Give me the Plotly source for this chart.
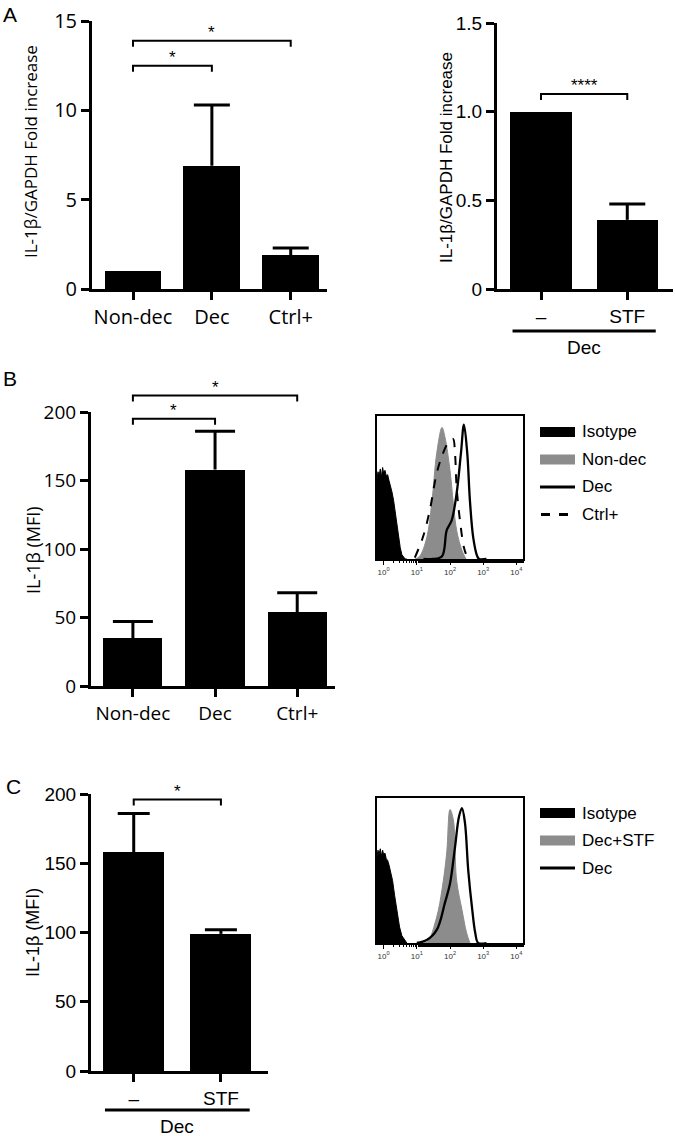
import plotly.graph_objects as go

W, H = 675, 1136

# ---------------- data ----------------
a1_categories = ["Non-dec", "Dec", "Ctrl+"]
a1_means = [1.0, 6.9, 1.9]
a1_err = [0.0, 3.4, 0.4]
a1_sig = [(0, 1, 12.5, "*"), (0, 2, 13.9, "*")]

a2_categories = ["–", "STF"]
a2_means = [1.0, 0.39]
a2_err = [0.0, 0.09]
a2_sig = [(0, 1, 1.10, "****")]

b_categories = ["Non-dec", "Dec", "Ctrl+"]
b_means = [35, 158, 54]
b_err = [12, 28, 14]
b_sig = [(0, 1, 195, "*"), (0, 2, 212, "*")]

c_categories = ["–", "STF"]
c_means = [158, 99]
c_err = [28, 3]
c_sig = [(0, 1, 196, "*")]

hist_ticks = [0, 1, 2, 3, 4]  # decades

# histogram B (exponent of intensity, % of max)
hb_iso_x = [-0.2, -0.17, -0.14, -0.1, -0.07, -0.03, 0.0, 0.04, 0.08, 0.12, 0.16, 0.2, 0.25, 0.3, 0.35, 0.4, 0.45, 0.5, 0.55, 0.6, 0.65, 0.7]
hb_iso_y = [56, 61, 58, 63, 57, 64, 60, 62, 58, 59, 55, 52, 47, 41, 33, 24, 15, 8, 3, 1, 0, 0]
hb_nondec_x = [0.95, 1.09, 1.3, 1.45, 1.6, 1.76, 1.85, 2.0, 2.1, 2.2, 2.36, 2.48]
hb_nondec_y = [0, 2, 15, 39, 74, 92, 85, 62, 39, 20, 6, 0]
hb_dec_x = [1.2, 1.48, 1.76, 1.9, 2.05, 2.2, 2.33, 2.42, 2.52, 2.6, 2.7, 2.82, 2.88, 3.1]
hb_dec_y = [0, 0, 2, 20, 27, 46, 74, 94, 74, 41, 15, 2, 0, 0]
hb_ctrl_x = [0.94, 1.18, 1.39, 1.6, 1.79, 1.94, 2.09, 2.15, 2.2, 2.3, 2.42, 2.52]
hb_ctrl_y = [1, 15, 34, 60, 74, 81, 84, 74, 50, 27, 8, 1]

# histogram C
hc_iso_x = [-0.2, -0.17, -0.14, -0.1, -0.07, -0.03, 0.0, 0.04, 0.08, 0.12, 0.16, 0.2, 0.27, 0.33, 0.4, 0.48, 0.55, 0.64, 0.7]
hc_iso_y = [60, 64, 61, 65, 60, 64, 61, 62, 58, 57, 54, 50, 43, 33, 22, 11, 5, 2, 0]
hc_stf_x = [1.2, 1.33, 1.6, 1.76, 1.9, 2.0, 2.1, 2.2, 2.36, 2.5, 2.6]
hc_stf_y = [0, 1, 18, 37, 62, 92, 85, 43, 23, 7, 0]
hc_dec_x = [1.0, 1.3, 1.6, 1.85, 2.0, 2.15, 2.27, 2.36, 2.45, 2.55, 2.67, 2.76, 2.85, 3.1]
hc_dec_y = [0, 2, 9, 28, 41, 66, 87, 93, 83, 50, 23, 7, 0, 0]

# ---------------- layout helpers ----------------
def fx(px):
    return px / W

def fy(py):
    return 1 - py / H

ARIAL = "Liberation Sans, Arial, sans-serif"
MYRIAD = "Open Sans, Liberation Sans, sans-serif"

fig = go.Figure()
shapes = []
annotations = []
layout_axes = {}

def text(px, py, s, size, family=ARIAL, angle=0, xanchor="center", yanchor="middle"):
    annotations.append(dict(x=fx(px), y=fy(py), xref="paper", yref="paper", text=s,
                            showarrow=False, textangle=angle, xanchor=xanchor, yanchor=yanchor,
                            font=dict(size=size, family=family, color="black")))

def bar_panel(k, geom, cats, means, errs, sig, yticks, yticktext, family, cap_px, fsize=19):
    x0, x1, ytop, ybot, yr, xr, bw = geom
    xs = list(range(len(cats)))
    xa = "x" if k == 1 else f"x{k}"
    ya = "y" if k == 1 else f"y{k}"
    fig.add_trace(go.Bar(
        x=xs, y=means, width=bw, marker=dict(color="black", line=dict(width=0)),
        xaxis=xa, yaxis=ya, showlegend=False))
    # upper-only error whiskers
    c = cap_px / ((x1 - x0) / (xr[1] - xr[0]))
    ex, ey = [], []
    for xi, m, e in zip(xs, means, errs):
        if e:
            ex += [xi, xi, None, xi - c, xi + c, None]
            ey += [m, m + e, None, m + e, m + e, None]
    fig.add_trace(go.Scatter(x=ex, y=ey, mode="lines", line=dict(color="black", width=3),
                             xaxis=xa, yaxis=ya, showlegend=False, cliponaxis=False))
    xd = [fx(x0), fx(x1)]
    yd = [fy(ybot), fy(ytop)]
    layout_axes["xaxis" if k == 1 else f"xaxis{k}"] = dict(
        domain=xd, range=xr, anchor=ya, showline=True, linewidth=3, linecolor="black",
        ticks="outside", ticklen=8, tickwidth=3, tickcolor="black",
        tickvals=xs, ticktext=cats, tickfont=dict(size=fsize, family=family, color="black"),
        showgrid=False, zeroline=False, fixedrange=True, automargin=False,
        ticklabeloverflow="allow")
    layout_axes["yaxis" if k == 1 else f"yaxis{k}"] = dict(
        domain=yd, range=yr, anchor=xa, showline=True, linewidth=3, linecolor="black",
        ticks="outside", ticklen=8, tickwidth=3, tickcolor="black",
        tickvals=yticks, ticktext=yticktext, tickfont=dict(size=fsize, family=family, color="black"),
        showgrid=False, zeroline=False, fixedrange=True, automargin=False,
        ticklabeloverflow="allow")

    def ypaper(v):
        return yd[0] + (v - yr[0]) / (yr[1] - yr[0]) * (yd[1] - yd[0])

    drop = 6 / H
    for i, j, lvl, s in sig:
        yp = ypaper(lvl)
        shapes.append(dict(type="path", xref=xa, yref="paper",
                           path=f"M {i},{yp - drop} L {i},{yp} L {j},{yp} L {j},{yp - drop}",
                           line=dict(color="black", width=2)))
        annotations.append(dict(x=(i + j) / 2, y=yp, xref=xa, yref="paper", text=s,
                                showarrow=False, yanchor="bottom", yshift=-3,
                                font=dict(size=17, family=ARIAL, color="black")))
    return xa

def hist_panel(k, geom, traces):
    x0, x1, ytop, ybot = geom
    xa = f"x{k}"
    ya = f"y{k}"
    for xsd, ys, kind in traces:
        xv = [10 ** e for e in xsd]
        if kind == "iso":
            fig.add_trace(go.Scatter(x=xv, y=ys, mode="lines", fill="tozeroy", fillcolor="black",
                                     line=dict(color="black", width=1), xaxis=xa, yaxis=ya, showlegend=False))
        elif kind == "gray":
            fig.add_trace(go.Scatter(x=xv, y=ys, mode="lines", fill="tozeroy", fillcolor="#8c8c8c",
                                     line=dict(color="#8c8c8c", width=1, shape="spline"),
                                     xaxis=xa, yaxis=ya, showlegend=False))
        elif kind == "solid":
            fig.add_trace(go.Scatter(x=xv, y=ys, mode="lines",
                                     line=dict(color="black", width=2.3, shape="spline"),
                                     xaxis=xa, yaxis=ya, showlegend=False))
        else:
            fig.add_trace(go.Scatter(x=xv, y=ys, mode="lines",
                                     line=dict(color="black", width=2, dash="dash", shape="spline"),
                                     xaxis=xa, yaxis=ya, showlegend=False))
    layout_axes[f"xaxis{k}"] = dict(
        domain=[fx(x0), fx(x1)], type="log", range=[-0.2, 4.2], anchor=ya,
        showline=True, mirror=True, linewidth=2, linecolor="black",
        ticks="outside", ticklen=4, tickwidth=1, tickcolor="black",
        tickvals=[10 ** d for d in hist_ticks],
        ticktext=[f"10<sup>{d}</sup>" for d in hist_ticks],
        tickfont=dict(size=8, family=ARIAL, color="#333333"),
        minor=dict(ticks="outside", ticklen=2, tickwidth=1, tickcolor="black", showgrid=False),
        showgrid=False, zeroline=False, fixedrange=True, automargin=False)
    layout_axes[f"yaxis{k}"] = dict(
        domain=[fy(ybot), fy(ytop)], range=[0, 100], anchor=xa,
        showline=True, mirror=True, linewidth=2, linecolor="black",
        showticklabels=False, ticks="", showgrid=False, zeroline=False, fixedrange=True,
        automargin=False)

# ---------------- panels ----------------
xa1 = bar_panel(1, (92, 327, 21, 289, [0, 15], [-0.52, 2.46], 0.72),
                a1_categories, a1_means, a1_err, a1_sig,
                [0, 5, 10, 15], ["0", "5", "10", "15"], MYRIAD, 18, fsize=20)
xa2 = bar_panel(2, (497, 673, 23, 289, [0, 1.5], [-0.51, 1.53], 0.71),
                a2_categories, a2_means, a2_err, a2_sig,
                [0, 0.5, 1.0, 1.5], ["0", "0.5", "1.0", "1.5"], ARIAL, 18)
xa3 = bar_panel(3, (91, 335, 412, 686, [0, 200], [-0.51, 2.46], 0.72),
                b_categories, b_means, b_err, b_sig,
                [0, 50, 100, 150, 200], ["0", "50", "100", "150", "200"], MYRIAD, 20)
xa4 = bar_panel(4, (91, 268, 794, 1071, [0, 200], [-0.49, 1.54], 0.70),
                c_categories, c_means, c_err, c_sig,
                [0, 50, 100, 150, 200], ["0", "50", "100", "150", "200"], ARIAL, 16)

hist_panel(5, (377, 523, 416, 559), [
    (hb_iso_x, hb_iso_y, "iso"),
    (hb_nondec_x, hb_nondec_y, "gray"),
    (hb_dec_x, hb_dec_y, "solid"),
    (hb_ctrl_x, hb_ctrl_y, "dash"),
])
hist_panel(6, (377, 523, 798, 943), [
    (hc_iso_x, hc_iso_y, "iso"),
    (hc_stf_x, hc_stf_y, "gray"),
    (hc_dec_x, hc_dec_y, "solid"),
])

# "Dec" group underlines
for xa, py_line, py_text in [(xa2, 331, 347), (xa4, 1110, 1126)]:
    shapes.append(dict(type="line", xref=xa, yref="paper", x0=-0.33, x1=1.33,
                       y0=fy(py_line), y1=fy(py_line), line=dict(color="black", width=3)))
    annotations.append(dict(x=0.5, y=fy(py_text), xref=xa, yref="paper", text="Dec",
                            showarrow=False, yanchor="middle",
                            font=dict(size=19, family=ARIAL, color="black")))

# legends (drawn)
def legend(items, y0):
    for n, (label, kind) in enumerate(items):
        py = y0 + n * 27.5
        if kind in ("iso", "gray"):
            col = "black" if kind == "iso" else "#8c8c8c"
            shapes.append(dict(type="rect", xref="paper", yref="paper", x0=fx(540), x1=fx(575),
                               y0=fy(py + 5), y1=fy(py - 5), fillcolor=col, line=dict(width=0)))
        elif kind == "solid":
            shapes.append(dict(type="line", xref="paper", yref="paper", x0=fx(540), x1=fx(575),
                               y0=fy(py), y1=fy(py), line=dict(color="black", width=3)))
        else:
            shapes.append(dict(type="line", xref="paper", yref="paper", x0=fx(541), x1=fx(575),
                               y0=fy(py), y1=fy(py), line=dict(color="black", width=3, dash="dash")))
        text(580, py, label, 17, ARIAL, xanchor="left")

legend([("Isotype", "iso"), ("Non-dec", "gray"), ("Dec", "solid"), ("Ctrl+", "dash")], 432)
legend([("Isotype", "iso"), ("Dec+STF", "gray"), ("Dec", "solid")], 813)

# panel letters and axis titles
text(10, 14, "A", 21)
text(10, 379, "B", 21)
text(13, 786, "C", 21)
text(30, 152, "IL-1β/GAPDH Fold increase", 17, MYRIAD, angle=-90)
text(447, 158, "IL-1β/GAPDH Fold increase", 17, ARIAL, angle=-90)
text(33, 550, "IL-1β (MFI)", 18, MYRIAD, angle=-90)
text(33, 933, "IL-1β (MFI)", 18, ARIAL, angle=-90)

fig.update_layout(
    width=W, height=H, margin=dict(l=0, r=0, t=0, b=0, autoexpand=False),
    paper_bgcolor="white", plot_bgcolor="white",
    shapes=shapes, annotations=annotations, showlegend=False,
    bargap=0, **layout_axes)

fig.write_html("out.html", config={"displayModeBar": False},
               post_script="document.body.style.margin='0';document.body.style.overflow='hidden';")
